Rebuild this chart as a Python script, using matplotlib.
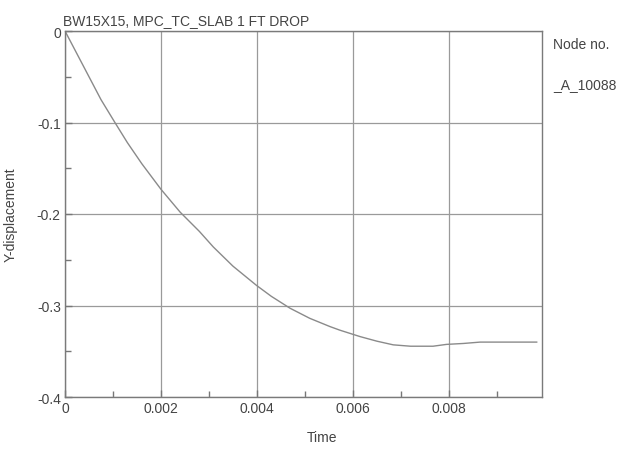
import matplotlib
matplotlib.use("Agg")
import matplotlib.pyplot as plt
from matplotlib.ticker import MultipleLocator

plt.rcParams['font.family'] = ['Liberation Sans', 'DejaVu Sans']

# Y-displacement of node 10088
time = [0.0, 0.00025, 0.0005, 0.00075, 0.00104, 0.0013, 0.0016, 0.002, 0.0024,
        0.0028, 0.00309, 0.0035, 0.00399, 0.0043, 0.00469, 0.0051, 0.00552,
        0.00573, 0.00615, 0.0065, 0.00684, 0.0072, 0.00767, 0.00795, 0.0083,
        0.00865, 0.0092, 0.00983]
ydisp = [0.0, -0.025, -0.050, -0.075, -0.100, -0.122, -0.145, -0.173, -0.198,
         -0.219, -0.236, -0.257, -0.278, -0.290, -0.303, -0.314, -0.323,
         -0.327, -0.334, -0.339, -0.343, -0.3445, -0.3445, -0.3425, -0.3415,
         -0.340, -0.340, -0.340]

title = "BW15X15, MPC_TC_SLAB 1 FT DROP"
node_label = "_A_10088"

fig = plt.figure(figsize=(6.33, 4.52), dpi=100)
ax = fig.add_axes([65 / 633, 1 - 398 / 452, (542 - 65) / 633, (398 - 32) / 452])

ax.plot(time, ydisp, color='#8a8a8a', lw=1.0)

ax.set_xlim(0, 0.00994)
ax.set_ylim(-0.4, 0)
ax.xaxis.set_minor_locator(MultipleLocator(0.001))
ax.yaxis.set_minor_locator(MultipleLocator(0.05))
ax.set_xticks([0, 0.002, 0.004, 0.006, 0.008])
ax.set_xticklabels(['0', '0.002', '0.004', '0.006', '0.008'])
ax.set_yticks([0, -0.1, -0.2, -0.3, -0.4])
ax.set_yticklabels(['0', '-0.1', '-0.2', '-0.3', '-0.4'])

ax.grid(True, which='major', color='#9a9a9a', lw=0.9)
ax.tick_params(which='both', direction='in', colors='#777777', labelcolor='#444444',
               labelsize=10, top=False, right=False)
ax.tick_params(which='major', length=5, width=1, pad=3)
ax.tick_params(which='minor', length=4, width=1)
for s in ax.spines.values():
    s.set_color('#7a7a7a')
    s.set_linewidth(1.0)

ax.set_xlabel('Time', fontsize=10, color='#444444')
ax.xaxis.set_label_coords((322 - 65) / (542 - 65), -0.09)
ax.set_ylabel('Y-displacement', fontsize=10, color='#444444')
ax.yaxis.set_label_coords(-0.10, 0.5)

fig.text(63 / 633, 1 - 21 / 452, title, fontsize=10, color='#444444', va='center', ha='left')
fig.text(553 / 633, 1 - 45 / 452, 'Node no.', fontsize=10, color='#444444', va='center', ha='left')
fig.text(553 / 633, 1 - 85 / 452, node_label, fontsize=10, color='#444444', va='center', ha='left')

fig.savefig('out.png', dpi=100, facecolor='white')
